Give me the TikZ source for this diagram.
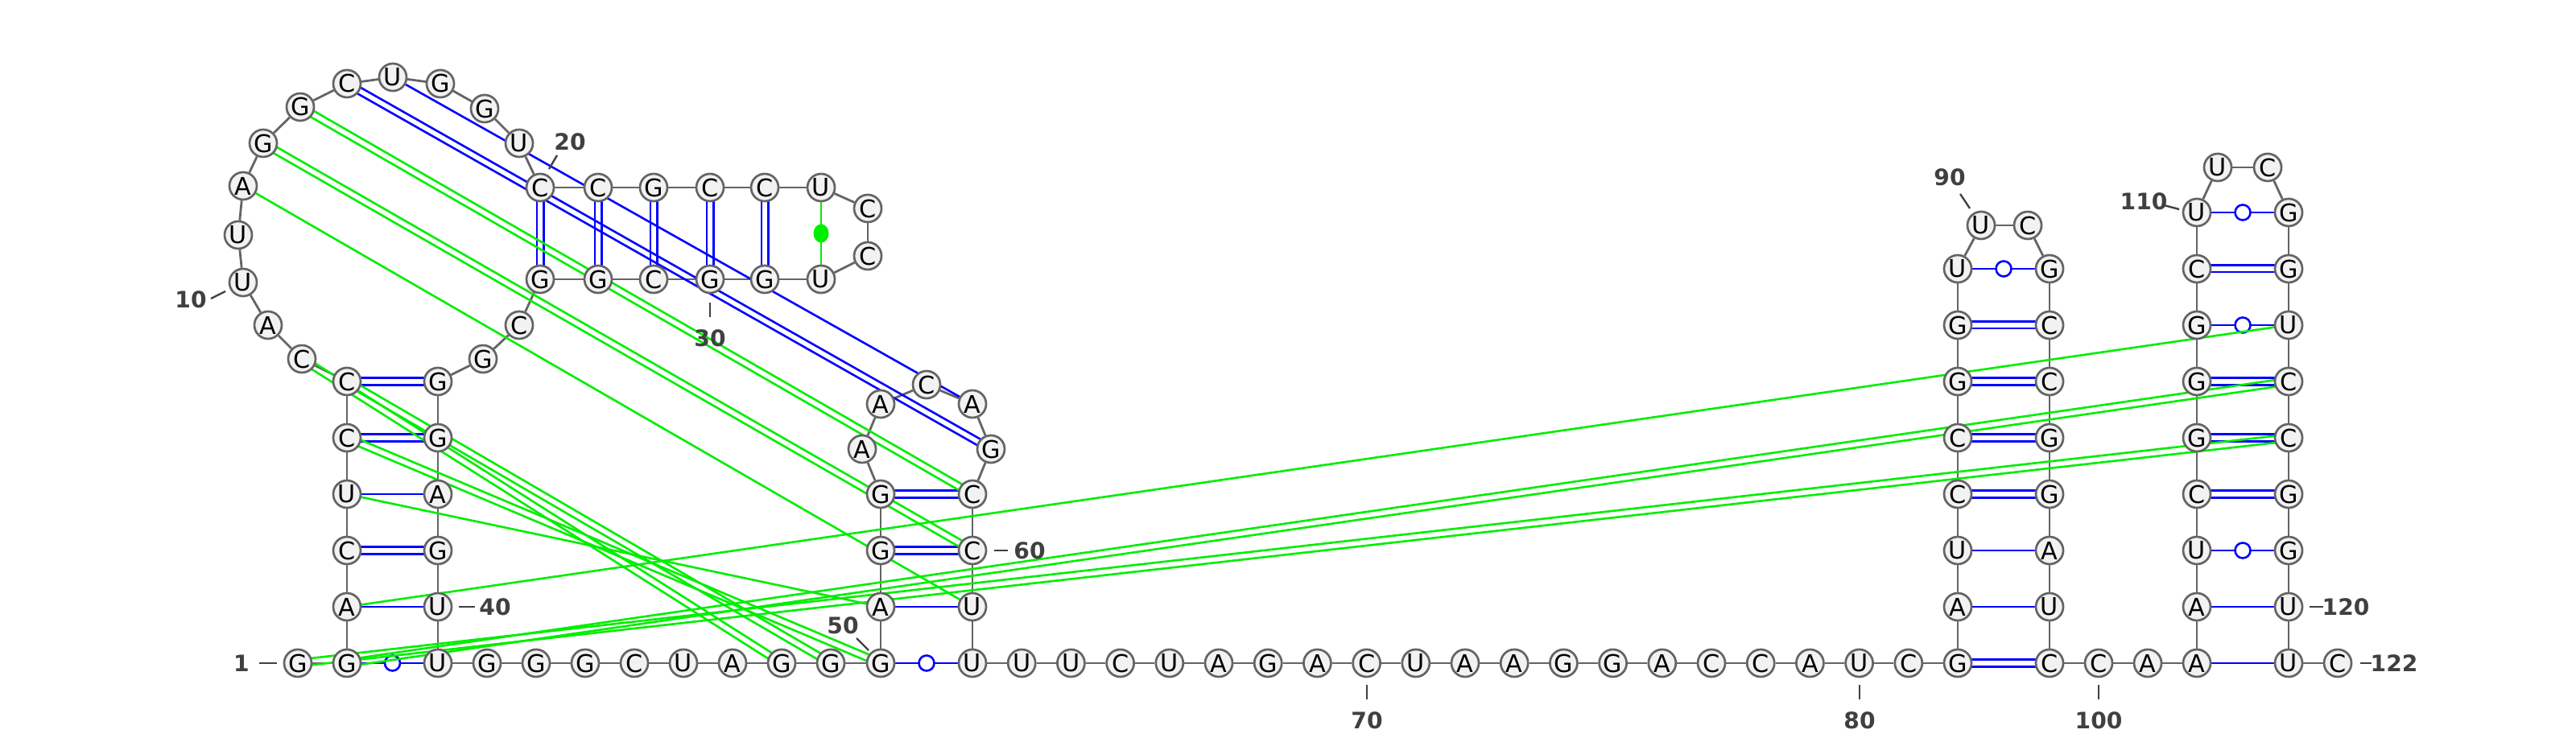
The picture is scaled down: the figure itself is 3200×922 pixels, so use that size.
\documentclass[tikz,border=0pt]{standalone}
\usepackage{fontspec}
\setmainfont{DejaVu Sans}
\usetikzlibrary{calc,backgrounds,shapes.geometric}
\definecolor{bbgray}{RGB}{100,100,100}
\definecolor{nfill}{RGB}{242,242,242}
\definecolor{pblue}{RGB}{0,0,255}
\definecolor{pgreen}{RGB}{0,238,0}
\definecolor{labgray}{RGB}{64,64,64}
\tikzset{
 nt/.style={circle, draw=bbgray, fill=nfill, line width=0.027cm, minimum size=0.34cm, inner sep=0pt, font=\fontsize{8.6}{8.6}\selectfont},
 backbone/.style={draw=bbgray, line width=0.028cm},
 pairline/.style={line width=0.026cm},
 lab/.style={text=labgray, font=\fontsize{8}{9}\selectfont\bfseries, inner sep=0pt},
 tickline/.style={draw=labgray, line width=0.024cm},
 wob/.style={circle, draw=pblue, fill=white, line width=0.026cm, minimum size=0.19cm, inner sep=0pt},
 gdot/.style={ellipse, fill=pgreen, minimum width=0.19cm, minimum height=0.23cm, inner sep=0pt}
}
\newcommand\pd[3]{\draw[#1,pairline] ($(#2)!0.042cm!90:(#3)$) -- ($(#3)!0.042cm!-90:(#2)$);
 \draw[#1,pairline] ($(#2)!0.042cm!-90:(#3)$) -- ($(#3)!0.042cm!90:(#2)$);}
\newcommand\ps[3]{\draw[#1,pairline] (#2) -- (#3);}
\newcommand\pw[2]{\draw[pblue,pairline] (#1) -- (#2) node[wob,midway] (w#1#2) {};}
\begin{document}
\begin{tikzpicture}[x=0.01cm,y=-0.01cm]
\useasboundingbox (0,0) rectangle (3200,922);
% ---- nucleotides
\node[nt] (n1) at (370,824) {G};
\node[nt] (n2) at (431,824) {G};
\node[nt] (n3) at (431,754) {A};
\node[nt] (n4) at (431,684) {C};
\node[nt] (n5) at (431,614) {U};
\node[nt] (n6) at (431,544) {C};
\node[nt] (n7) at (431,474) {C};
\node[nt] (n8) at (375,446) {C};
\node[nt] (n9) at (333,404) {A};
\node[nt] (n10) at (302,351) {U};
\node[nt] (n11) at (296,292) {U};
\node[nt] (n12) at (302,231) {A};
\node[nt] (n13) at (327,178) {G};
\node[nt] (n14) at (373,133) {G};
\node[nt] (n15) at (431,104) {C};
\node[nt] (n16) at (488,96) {U};
\node[nt] (n17) at (547,104) {G};
\node[nt] (n18) at (602,135) {G};
\node[nt] (n19) at (645,178) {U};
\node[nt] (n20) at (671,233) {C};
\node[nt] (n21) at (743,233) {C};
\node[nt] (n22) at (812,233) {G};
\node[nt] (n23) at (882,233) {C};
\node[nt] (n24) at (950,233) {C};
\node[nt] (n25) at (1020,233) {U};
\node[nt] (n26) at (1078,259) {C};
\node[nt] (n27) at (1078,318) {C};
\node[nt] (n28) at (1020,347) {U};
\node[nt] (n29) at (950,347) {G};
\node[nt] (n30) at (882,347) {G};
\node[nt] (n31) at (812,347) {C};
\node[nt] (n32) at (743,347) {G};
\node[nt] (n33) at (671,347) {G};
\node[nt] (n34) at (645,404) {C};
\node[nt] (n35) at (600,446) {G};
\node[nt] (n36) at (544,474) {G};
\node[nt] (n37) at (544,544) {G};
\node[nt] (n38) at (544,614) {A};
\node[nt] (n39) at (544,684) {G};
\node[nt] (n40) at (544,754) {U};
\node[nt] (n41) at (544,824) {U};
\node[nt] (n42) at (605,824) {G};
\node[nt] (n43) at (666,824) {G};
\node[nt] (n44) at (727,824) {G};
\node[nt] (n45) at (788,824) {C};
\node[nt] (n46) at (849,824) {U};
\node[nt] (n47) at (910,824) {A};
\node[nt] (n48) at (971,824) {G};
\node[nt] (n49) at (1032,824) {G};
\node[nt] (n50) at (1094,824) {G};
\node[nt] (n51) at (1094,754) {A};
\node[nt] (n52) at (1094,684) {G};
\node[nt] (n53) at (1094,614) {G};
\node[nt] (n54) at (1071,558) {A};
\node[nt] (n55) at (1094,502) {A};
\node[nt] (n56) at (1151,478) {C};
\node[nt] (n57) at (1208,502) {A};
\node[nt] (n58) at (1231,558) {G};
\node[nt] (n59) at (1208,614) {C};
\node[nt] (n60) at (1208,684) {C};
\node[nt] (n61) at (1208,754) {U};
\node[nt] (n62) at (1208,824) {U};
\node[nt] (n63) at (1269.2,824) {U};
\node[nt] (n64) at (1330.4,824) {U};
\node[nt] (n65) at (1391.6,824) {C};
\node[nt] (n66) at (1452.8,824) {U};
\node[nt] (n67) at (1514,824) {A};
\node[nt] (n68) at (1575.2,824) {G};
\node[nt] (n69) at (1636.4,824) {A};
\node[nt] (n70) at (1697.6,824) {C};
\node[nt] (n71) at (1758.8,824) {U};
\node[nt] (n72) at (1820,824) {A};
\node[nt] (n73) at (1881.2,824) {A};
\node[nt] (n74) at (1942.4,824) {G};
\node[nt] (n75) at (2003.6,824) {G};
\node[nt] (n76) at (2064.8,824) {A};
\node[nt] (n77) at (2126,824) {C};
\node[nt] (n78) at (2187.2,824) {C};
\node[nt] (n79) at (2248.4,824) {A};
\node[nt] (n80) at (2309.6,824) {U};
\node[nt] (n81) at (2370.8,824) {C};
\node[nt] (n82) at (2432,824) {G};
\node[nt] (n83) at (2432,754) {A};
\node[nt] (n84) at (2432,684) {U};
\node[nt] (n85) at (2432,614) {C};
\node[nt] (n86) at (2432,544) {C};
\node[nt] (n87) at (2432,474) {G};
\node[nt] (n88) at (2432,404) {G};
\node[nt] (n89) at (2432,334) {U};
\node[nt] (n90) at (2461,280) {U};
\node[nt] (n91) at (2519,280) {C};
\node[nt] (n92) at (2546,334) {G};
\node[nt] (n93) at (2546,404) {C};
\node[nt] (n94) at (2546,474) {C};
\node[nt] (n95) at (2546,544) {G};
\node[nt] (n96) at (2546,614) {G};
\node[nt] (n97) at (2546,684) {A};
\node[nt] (n98) at (2546,754) {U};
\node[nt] (n99) at (2546,824) {C};
\node[nt] (n100) at (2607,824) {C};
\node[nt] (n101) at (2668,824) {A};
\node[nt] (n102) at (2729,824) {A};
\node[nt] (n103) at (2729,754) {A};
\node[nt] (n104) at (2729,684) {U};
\node[nt] (n105) at (2729,614) {C};
\node[nt] (n106) at (2729,544) {G};
\node[nt] (n107) at (2729,474) {G};
\node[nt] (n108) at (2729,404) {G};
\node[nt] (n109) at (2729,334) {C};
\node[nt] (n110) at (2729,264) {U};
\node[nt] (n111) at (2755,208) {U};
\node[nt] (n112) at (2817,208) {C};
\node[nt] (n113) at (2843,264) {G};
\node[nt] (n114) at (2843,334) {G};
\node[nt] (n115) at (2843,404) {U};
\node[nt] (n116) at (2843,474) {C};
\node[nt] (n117) at (2843,544) {C};
\node[nt] (n118) at (2843,614) {G};
\node[nt] (n119) at (2843,684) {G};
\node[nt] (n120) at (2843,754) {U};
\node[nt] (n121) at (2843,824) {U};
\node[nt] (n122) at (2904,824) {C};
% ---- labels
\node[lab] (l1) at (300,824) {1};
\coordinate (t1a) at (322,824); \coordinate (t1b) at (344,824);
\node[lab] (l10) at (237,372) {10};
\coordinate (t10a) at (262,371); \coordinate (t10b) at (280,362);
\node[lab] (l20) at (708,176) {20};
\coordinate (t20a) at (692,193); \coordinate (t20b) at (682,210);
\node[lab] (l30) at (882,420) {30};
\coordinate (t30a) at (882,376); \coordinate (t30b) at (882,394);
\node[lab] (l40) at (615,754) {40};
\coordinate (t40a) at (570,754); \coordinate (t40b) at (590,754);
\node[lab] (l50) at (1047,777) {50};
\coordinate (t50a) at (1064,793); \coordinate (t50b) at (1079,808);
\node[lab] (l60) at (1279,684) {60};
\coordinate (t60a) at (1235,684); \coordinate (t60b) at (1252,684);
\node[lab] (l70) at (1698,895) {70};
\coordinate (t70a) at (1698,851); \coordinate (t70b) at (1698,869);
\node[lab] (l80) at (2310,895) {80};
\coordinate (t80a) at (2310,851); \coordinate (t80b) at (2310,869);
\node[lab] (l90) at (2422,220) {90};
\coordinate (t90a) at (2435,241); \coordinate (t90b) at (2447,259);
\node[lab] (l100) at (2607,895) {100};
\coordinate (t100a) at (2607,851); \coordinate (t100b) at (2607,869);
\node[lab] (l110) at (2663,250) {110};
\coordinate (t110a) at (2688,255); \coordinate (t110b) at (2707,260);
\node[lab] (l120) at (2914,754) {120};
\coordinate (t120a) at (2869,754); \coordinate (t120b) at (2886,754);
\node[lab] (l122) at (2974,824) {122};
\coordinate (t122a) at (2932,824); \coordinate (t122b) at (2946,824);
\foreach \t in {1,10,20,30,40,50,60,70,80,90,100,110,120,122}
  \draw[tickline] (t\t a) -- (t\t b);
% ---- connectors below the nucleotides
\begin{pgfonlayer}{background}
\foreach \i in {1,...,121} {
  \pgfmathtruncatemacro\j{\i+1}
  \draw[backbone] (n\i) -- (n\j);
}
% stem 1
\pw{n2}{n41}
\ps{pblue}{n3}{n40}
\pd{pblue}{n4}{n39}
\ps{pblue}{n5}{n38}
\pd{pblue}{n6}{n37}
\pd{pblue}{n7}{n36}
% hairpin 20-33
\pd{pblue}{n20}{n33}
\pd{pblue}{n21}{n32}
\pd{pblue}{n22}{n31}
\pd{pblue}{n23}{n30}
\pd{pblue}{n24}{n29}
\draw[pgreen,pairline] (n25) -- (n28) node[gdot,midway] (gd) {};
% stem 2
\pw{n50}{n62}
\ps{pblue}{n51}{n61}
\pd{pblue}{n52}{n60}
\pd{pblue}{n53}{n59}
% pseudoknot
\pd{pblue}{n15}{n58}
\ps{pblue}{n16}{n57}
% stem 3
\pd{pblue}{n82}{n99}
\ps{pblue}{n83}{n98}
\ps{pblue}{n84}{n97}
\pd{pblue}{n85}{n96}
\pd{pblue}{n86}{n95}
\pd{pblue}{n87}{n94}
\pd{pblue}{n88}{n93}
\pw{n89}{n92}
% stem 4
\ps{pblue}{n102}{n121}
\ps{pblue}{n103}{n120}
\pw{n104}{n119}
\pd{pblue}{n105}{n118}
\pd{pblue}{n106}{n117}
\pd{pblue}{n107}{n116}
\pw{n108}{n115}
\pd{pblue}{n109}{n114}
\pw{n110}{n113}
% alternative (green) pairs
\pd{pgreen}{n1}{n117}
\pd{pgreen}{n2}{n116}
\ps{pgreen}{n3}{n115}
\ps{pgreen}{n5}{n51}
\pd{pgreen}{n6}{n50}
\pd{pgreen}{n7}{n49}
\pd{pgreen}{n8}{n48}
\ps{pgreen}{n12}{n61}
\pd{pgreen}{n13}{n60}
\pd{pgreen}{n14}{n59}
\end{pgfonlayer}
\end{tikzpicture}
\end{document}
